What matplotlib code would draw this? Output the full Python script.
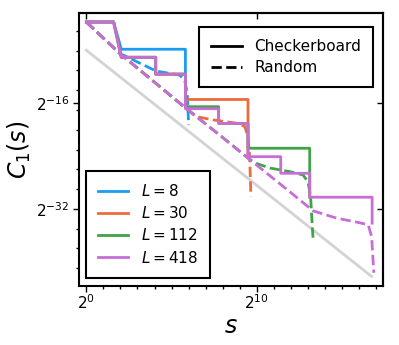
import numpy as np
import matplotlib
matplotlib.use('Agg')
import matplotlib.pyplot as plt
from matplotlib.lines import Line2D
from matplotlib.ticker import NullFormatter, NullLocator

# values, as log2(s) and log2(C1)
ref_x = [0.0, 16.73]
ref_y = [-7.93, -42.25]

# checkerboard (solid)
cb8_x = [0, 1.6, 2.05, 5.81, 5.81]
cb8_y = [-3.65, -3.65, -7.78, -7.78, -11.5]
cb30_x = [0, 1.6, 2.05, 4.07, 4.07, 5.81, 5.81, 9.48, 9.48]
cb30_y = [-3.65, -3.65, -9.0, -9.0, -11.56, -11.56, -15.4, -15.4, -24.08]
cb112_x = [0, 1.6, 2.05, 4.07, 4.07, 5.81, 5.81, 7.76, 7.76, 9.48, 9.48, 13.10, 13.10]
cb112_y = [-3.65, -3.65, -9.0, -9.0, -11.56, -11.56, -16.5, -16.5, -19.03, -19.03,
           -22.8, -22.8, -30.23]
cb418_x = [0, 1.6, 2.05, 4.07, 4.07, 5.81, 5.81, 7.76, 7.76, 9.48, 9.48,
           11.40, 11.40, 13.10, 13.10, 16.76, 16.76]
cb418_y = [-3.65, -3.65, -9.0, -9.0, -11.56, -11.56, -16.8, -16.8, -19.03, -19.03,
           -24.08, -24.08, -26.6, -26.6, -30.23, -30.23, -34.17]

# random (dashed)
rd8_x = [0, 1.95, 4.1, 5.47, 5.77, 5.92, 6.0]
rd8_y = [-3.65, -8.4, -11.1, -11.7, -12.5, -14.5, -19.3]
rd30_x = [0, 1.95, 4.1, 5.87, 6.45, 7.43, 8.8, 9.29, 9.48, 9.58, 9.65]
rd30_y = [-3.65, -8.4, -13.0, -16.8, -18.0, -18.5, -19.0, -19.5, -21.05, -24.1, -30.1]
rd112_x = [0, 1.95, 4.1, 5.87, 7.82, 9.58, 9.97, 10.76, 11.93, 12.71, 13.0, 13.15, 13.3]
rd112_y = [-3.65, -8.4, -13.0, -16.8, -20.8, -24.5, -25.1, -25.8, -26.35, -26.85,
           -27.9, -30.1, -36.7]
rd418_x = [0, 1.95, 4.1, 5.87, 7.82, 9.58, 11.93, 13.3, 14.67, 15.84, 16.53, 16.73, 16.86]
rd418_y = [-3.65, -8.4, -13.0, -16.8, -20.8, -24.5, -29.4, -32.3, -33.4, -34.0, -34.4,
           -36.2, -41.7]

sizes = [8, 30, 112, 418]
colors = ['#1a9cf0', '#ee6b3b', '#3ea447', '#c86dd7']
cb_x = [cb8_x, cb30_x, cb112_x, cb418_x]
cb_y = [cb8_y, cb30_y, cb112_y, cb418_y]
rd_x = [rd8_x, rd30_x, rd112_x, rd418_x]
rd_y = [rd8_y, rd30_y, rd112_y, rd418_y]

fig = plt.figure(figsize=(3.99, 3.45), dpi=100)
ax = fig.add_axes([0.198, 0.171, 0.762, 0.791])

ax.plot(2.0**np.array(ref_x), 2.0**np.array(ref_y), color='lightgray', lw=2)

handles = []
for L, c, xs, ys, xd, yd in zip(sizes, colors, cb_x, cb_y, rd_x, rd_y):
    h, = ax.plot(2.0**np.array(xs), 2.0**np.array(ys), color=c, lw=2, label=f'$L = {L}$')
    ax.plot(2.0**np.array(xd), 2.0**np.array(yd), color=c, lw=2, ls='--')
    handles.append(h)

ax.set_xscale('log', base=2)
ax.set_yscale('log', base=2)
ax.set_xlim(2**-0.43, 2**17.4)
ax.set_ylim(2**-43.7, 2**-2.3)

ax.set_xticks([2**0, 2**10], [r'$2^{0}$', r'$2^{10}$'])
ax.set_xticks([2.0**k for k in range(1, 18) if k != 10], minor=True)
ax.set_yticks([2.0**-32, 2.0**-16], [r'$2^{-32}$', r'$2^{-16}$'])
ax.set_yticks([2.0**(-2 - 3 * k) for k in range(1, 14)], minor=True)
ax.xaxis.set_minor_formatter(NullFormatter())
ax.yaxis.set_minor_formatter(NullFormatter())
ax.tick_params(which='major', length=4, width=1, labelsize=11)
ax.tick_params(which='minor', length=2.5, width=1)
ax.tick_params(axis='x', which='major', pad=1.5)
ax.tick_params(axis='y', which='major', pad=3)
for sp in ax.spines.values():
    sp.set_linewidth(1.5)

# inward ticks on top and right at the labelled positions
top = ax.secondary_xaxis('top')
top.set_xticks([2**0, 2**10])
top.xaxis.set_minor_locator(NullLocator())
top.tick_params(direction='in', length=4, width=1, labeltop=False)
right = ax.secondary_yaxis('right')
right.set_yticks([2.0**-32, 2.0**-16])
right.yaxis.set_minor_locator(NullLocator())
right.tick_params(direction='in', length=4, width=1, labelright=False)
for s in (top, right):
    for sp in s.spines.values():
        sp.set_linewidth(1.5)

ax.set_xlabel('$s$', fontsize=17, labelpad=1)
ax.set_ylabel('$C_1(s)$', fontsize=17, labelpad=2)

style = [Line2D([], [], color='black', lw=2, ls='-'),
         Line2D([], [], color='black', lw=2, ls='--')]
leg1 = ax.legend(style, ['Checkerboard', 'Random'], loc='upper right', fontsize=11,
                 fancybox=False, framealpha=1, edgecolor='black',
                 borderpad=0.8, labelspacing=0.4, borderaxespad=0,
                 bbox_to_anchor=(0.968, 0.950))
leg1.get_frame().set_linewidth(1.5)
ax.add_artist(leg1)
leg2 = ax.legend(handles=handles, loc='lower left', fontsize=11, fancybox=False,
                 framealpha=1, edgecolor='black', borderpad=0.8, labelspacing=0.4,
                 borderaxespad=0, bbox_to_anchor=(0.022, 0.030))
leg2.get_frame().set_linewidth(1.5)

fig.savefig('out.png', dpi=100)
